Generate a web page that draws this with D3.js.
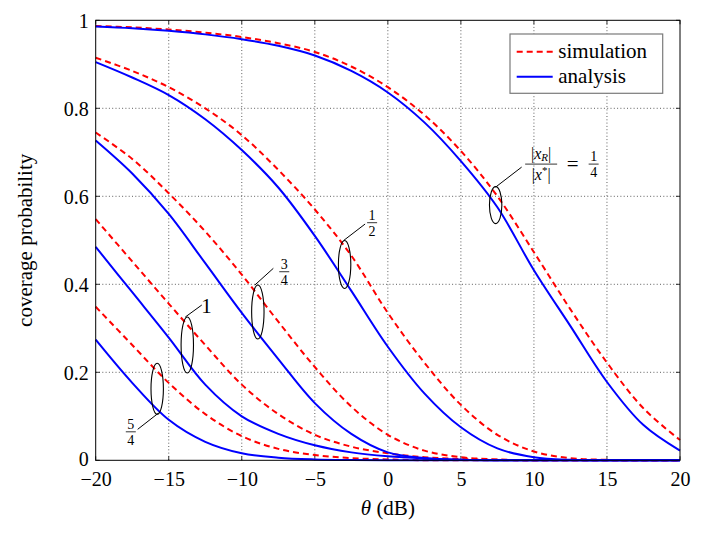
<!DOCTYPE html>
<html>
<head>
<meta charset="utf-8">
<script src="https://cdn.jsdelivr.net/npm/d3@7"></script>
<style>
body { margin: 0; background: #fff; }
text { font-family: "Liberation Serif", "DejaVu Serif", serif; fill: #000; }
</style>
</head>
<body>
<div id="chart"></div>
<script>
"use strict";

// theta in dB, sample points shared by every curve
var thetaDb = [-20, -17.5, -15, -12.5, -10, -7.5, -5, -2.5, 0, 2.5, 5, 7.5, 10, 12.5, 15, 17.5, 20];

// simulation (red dashed), one array per |x_R|/|x*| ratio
var simQuarter      = [0.987, 0.984, 0.979, 0.972, 0.962, 0.948, 0.928, 0.895, 0.848, 0.785, 0.703, 0.600, 0.473, 0.343, 0.222, 0.118, 0.046];
var simHalf         = [0.915, 0.885, 0.848, 0.800, 0.739, 0.660, 0.570, 0.465, 0.335, 0.222, 0.126, 0.058, 0.020, 0.005, 0.001, 0, 0];
var simThreeQuarter = [0.745, 0.685, 0.607, 0.520, 0.422, 0.315, 0.212, 0.122, 0.058, 0.022, 0.007, 0.002, 0, 0, 0, 0, 0];
var simOne          = [0.548, 0.452, 0.356, 0.262, 0.172, 0.105, 0.058, 0.031, 0.016, 0.007, 0.003, 0.001, 0, 0, 0, 0, 0];
var simFiveQuarter  = [0.349, 0.262, 0.176, 0.105, 0.055, 0.026, 0.012, 0.005, 0.002, 0, 0, 0, 0, 0, 0, 0, 0];

// analysis (blue solid)
var anaQuarter      = [0.986, 0.982, 0.976, 0.968, 0.957, 0.942, 0.920, 0.885, 0.836, 0.768, 0.680, 0.575, 0.432, 0.305, 0.178, 0.080, 0.022];
var anaHalf         = [0.905, 0.870, 0.830, 0.775, 0.705, 0.620, 0.510, 0.385, 0.258, 0.152, 0.075, 0.027, 0.007, 0.001, 0, 0, 0];
var anaThreeQuarter = [0.727, 0.652, 0.560, 0.448, 0.335, 0.230, 0.130, 0.060, 0.018, 0.005, 0.001, 0, 0, 0, 0, 0, 0];
var anaOne          = [0.485, 0.382, 0.279, 0.172, 0.100, 0.060, 0.034, 0.018, 0.009, 0.004, 0.001, 0, 0, 0, 0, 0, 0];
var anaFiveQuarter  = [0.274, 0.176, 0.092, 0.042, 0.016, 0.006, 0.002, 0.0005, 0, 0, 0, 0, 0, 0, 0, 0, 0];

var xTicks = [-20, -15, -10, -5, 0, 5, 10, 15, 20];
var yTicks = [0, 0.2, 0.4, 0.6, 0.8, 1];
var legendLabels = ["simulation", "analysis"];

// annotation ellipses: [theta, value] of the centre, and the ratio label
var marks = [
    { at: [7.38, 0.58],    ry: 18.5, label: "quarter" },
    { at: [-2.96, 0.445],  ry: 24,   label: "1/2" },
    { at: [-8.9, 0.337],   ry: 27,   label: "3/4" },
    { at: [-13.73, 0.262], ry: 28,   label: "1" },
    { at: [-15.79, 0.1625], ry: 25.5, label: "5/4" }
];

var specs = {
    w: 705,
    h: 535,
    left: 95.7,
    top: 20.3,
    right: 680,
    bottom: 460.3
};
var serif = "'Liberation Serif', 'DejaVu Serif', serif";

var x = d3.scaleLinear().domain([-20, 20]).range([specs.left, specs.right]);
var y = d3.scaleLinear().domain([0, 1]).range([specs.bottom, specs.top]);

var svg = d3.select("#chart").append("svg")
    .attr("width", specs.w)
    .attr("height", specs.h)
    .attr("font-family", serif);

// grid
var grid = svg.append("g");
grid.selectAll("line.gx")
    .data(xTicks.slice(1, -1))
    .enter().append("line")
    .attr("x1", function(d) { return x(d); })
    .attr("x2", function(d) { return x(d); })
    .attr("y1", specs.top)
    .attr("y2", specs.bottom);
grid.selectAll("line.gy")
    .data(yTicks.slice(1, -1))
    .enter().append("line")
    .attr("x1", specs.left)
    .attr("x2", specs.right)
    .attr("y1", function(d) { return y(d); })
    .attr("y2", function(d) { return y(d); });
grid.selectAll("line")
    .attr("stroke", "#5e5e5e")
    .attr("stroke-width", 1)
    .attr("stroke-dasharray", "1,2.3");

// inward ticks on all four sides
var ticks = svg.append("g").attr("stroke", "#000").attr("stroke-width", 0.8);
xTicks.forEach(function(t) {
    ticks.append("line").attr("x1", x(t)).attr("x2", x(t)).attr("y1", specs.bottom).attr("y2", specs.bottom - 4);
    ticks.append("line").attr("x1", x(t)).attr("x2", x(t)).attr("y1", specs.top).attr("y2", specs.top + 4);
});
yTicks.forEach(function(t) {
    ticks.append("line").attr("x1", specs.left).attr("x2", specs.left + 4).attr("y1", y(t)).attr("y2", y(t));
    ticks.append("line").attr("x1", specs.right).attr("x2", specs.right - 4).attr("y1", y(t)).attr("y2", y(t));
});

// tick labels through d3 axes
var xAxis = svg.append("g")
    .attr("transform", "translate(0," + specs.bottom + ")")
    .call(d3.axisBottom(x).tickValues(xTicks).tickSize(0).tickFormat(d3.format("d")))
    .attr("font-family", serif);
xAxis.select(".domain").remove();
xAxis.selectAll("text")
    .attr("y", 25.5)
    .attr("dy", null)
    .style("font-size", "20px")
    .style("font-family", serif);

var yAxis = svg.append("g")
    .attr("transform", "translate(" + specs.left + ",0)")
    .call(d3.axisLeft(y).tickValues(yTicks).tickSize(0)
        .tickFormat(function(d) { return (d === 0 || d === 1) ? String(d) : d.toFixed(1); }))
    .attr("font-family", serif);
yAxis.select(".domain").remove();
yAxis.selectAll("text")
    .attr("x", -7)
    .attr("dy", function(d) { return d === 0 ? "0.25em" : "0.34em"; })
    .style("font-size", "20px")
    .style("font-family", serif);

// curves
var line = d3.line()
    .x(function(d, i) { return x(thetaDb[i]); })
    .y(function(d) { return y(d); })
    .curve(d3.curveCatmullRom.alpha(0.5));

var simSeries = [simQuarter, simHalf, simThreeQuarter, simOne, simFiveQuarter];
var anaSeries = [anaQuarter, anaHalf, anaThreeQuarter, anaOne, anaFiveQuarter];

svg.append("g").selectAll("path")
    .data(simSeries)
    .enter().append("path")
    .attr("d", line)
    .attr("fill", "none")
    .attr("stroke", "#ff0000")
    .attr("stroke-width", 2)
    .attr("stroke-dasharray", "6,4");

svg.append("g").selectAll("path")
    .data(anaSeries)
    .enter().append("path")
    .attr("d", line)
    .attr("fill", "none")
    .attr("stroke", "#0000ff")
    .attr("stroke-width", 2);

// frame
svg.append("rect")
    .attr("x", specs.left)
    .attr("y", specs.top)
    .attr("width", specs.right - specs.left)
    .attr("height", specs.bottom - specs.top)
    .attr("fill", "none")
    .attr("stroke", "#000")
    .attr("stroke-width", 1);

// axis titles
svg.append("text")
    .attr("x", (specs.left + specs.right) / 2)
    .attr("y", 515)
    .attr("text-anchor", "middle")
    .style("font-size", "21px")
    .html("<tspan font-style='italic'>θ</tspan> (dB)");

svg.append("text")
    .attr("transform", "translate(32," + ((specs.top + specs.bottom) / 2) + ") rotate(-90)")
    .attr("text-anchor", "middle")
    .style("font-size", "21px")
    .text("coverage probability");

// small stacked fraction
function fraction(g, cx, barY, num, den, size) {
    g.append("text").attr("x", cx).attr("y", barY - 3).attr("text-anchor", "middle")
        .style("font-size", size + "px").text(num);
    g.append("line").attr("x1", cx - 5).attr("x2", cx + 5).attr("y1", barY).attr("y2", barY)
        .attr("stroke", "#000").attr("stroke-width", 0.8);
    g.append("text").attr("x", cx).attr("y", barY + 13).attr("text-anchor", "middle")
        .style("font-size", size + "px").text(den);
}

// annotations
var ann = svg.append("g");
var leaders = {
    "quarter": { s: [0, -18], e: [26, -38] },
    "1/2": { s: [-1, -24], e: [20.5, -40.5] },
    "3/4": { s: [-3, -27], e: [15.5, -43.7] },
    "1":   { s: [-2, -28], e: [14.5, -40] },
    "5/4": { s: [1, 24.5], e: [-19.5, 40.5] }
};
marks.forEach(function(m) {
    var cx = x(m.at[0]), cy = y(m.at[1]);
    ann.append("ellipse")
        .attr("cx", cx).attr("cy", cy)
        .attr("rx", 6.2).attr("ry", m.ry)
        .attr("fill", "none").attr("stroke", "#000").attr("stroke-width", 1.1);
    var l = leaders[m.label];
    ann.append("line")
        .attr("x1", cx + l.s[0]).attr("y1", cy + l.s[1])
        .attr("x2", cx + l.e[0]).attr("y2", cy + l.e[1])
        .attr("stroke", "#000").attr("stroke-width", 1);

    if (m.label === "1") {
        ann.append("text").attr("x", cx + l.e[0] - 0.5).attr("y", cy + l.e[1] + 8)
            .style("font-size", "21px").text("1");
    } else if (m.label === "quarter") {
        var fx = cx + 45.5, by = cy - 41;
        var num = ann.append("text").attr("x", fx).attr("y", by - 5).attr("text-anchor", "middle")
            .style("font-size", "16px");
        num.append("tspan").text("|");
        num.append("tspan").attr("font-style", "italic").text("x");
        num.append("tspan").attr("font-style", "italic").style("font-size", "11px").attr("dy", 2).text("R");
        num.append("tspan").attr("dy", -2).text("|");
        ann.append("line").attr("x1", fx - 16).attr("x2", fx + 16).attr("y1", by).attr("y2", by)
            .attr("stroke", "#000").attr("stroke-width", 0.8);
        var den = ann.append("text").attr("x", fx).attr("y", by + 15.5).attr("text-anchor", "middle")
            .style("font-size", "16px");
        den.append("tspan").text("|");
        den.append("tspan").attr("font-style", "italic").text("x");
        den.append("tspan").style("font-size", "11px").attr("dy", -6).text("*");
        den.append("tspan").attr("dy", 6).text("|");
        ann.append("text").attr("x", fx + 31.5).attr("y", by + 6.5).attr("text-anchor", "middle")
            .style("font-size", "21px").text("=");
        fraction(ann, fx + 52.5, by, "1", "4", 14);
    } else {
        var parts = m.label.split("/");
        var dxs = m.label === "5/4" ? -26.4 : (m.label === "3/4" ? 26.4 : 27.5);
        var dys = m.label === "5/4" ? 43 : (m.label === "3/4" ? -40.3 : -41.8);
        fraction(ann, cx + dxs, cy + dys, parts[0], parts[1], 14);
    }
});

// legend
var legend = svg.append("g");
legend.append("rect")
    .attr("x", 510).attr("y", 34)
    .attr("width", 152.7).attr("height", 59.3)
    .attr("fill", "#fff")
    .attr("stroke", "#7a7a7a")
    .attr("stroke-width", 1.2);
legendLabels.forEach(function(name, i) {
    var ly = 51.7 + i * 25;
    legend.append("line")
        .attr("x1", 516.7).attr("x2", 552.7)
        .attr("y1", ly).attr("y2", ly)
        .attr("stroke", i === 0 ? "#ff0000" : "#0000ff")
        .attr("stroke-width", 2)
        .attr("stroke-dasharray", i === 0 ? "6,4" : null);
    legend.append("text")
        .attr("x", 558.3).attr("y", ly + 6.5)
        .style("font-size", "21px")
        .text(name);
});
</script>
</body>
</html>
